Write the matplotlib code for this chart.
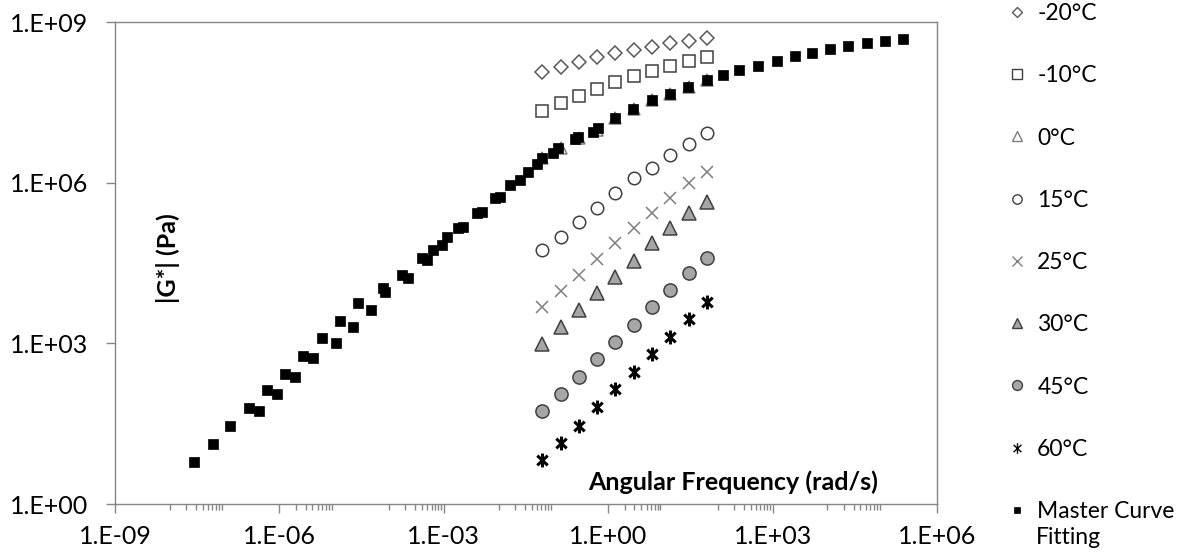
import matplotlib
matplotlib.use("Agg")
import matplotlib.pyplot as plt
from matplotlib.path import Path
from matplotlib.lines import Line2D
import matplotlib.ticker as mticker

plt.rcParams['font.family'] = ['Lato', 'DejaVu Sans']

# test frequencies (rad/s) used at every temperature
freq = [0.0628, 0.135, 0.292, 0.628, 1.35, 2.92, 6.28, 13.5, 29.2, 62.8]

# |G*| (Pa) per test temperature
g_m20 = [1.18e8, 1.47e8, 1.82e8, 2.19e8, 2.63e8, 3.0e8, 3.47e8, 3.98e8, 4.47e8, 5.0e8]
g_m10 = [2.21e7, 3.03e7, 4.15e7, 5.61e7, 7.67e7, 9.8e7, 1.23e8, 1.51e8, 1.89e8, 2.25e8]
g_0 = [2.85e6, 4.38e6, 6.73e6, 9.64e6, 1.59e7, 2.34e7, 3.50e7, 4.53e7, 6.19e7, 8.26e7]
g_15 = [5.53e4, 9.80e4, 1.87e5, 3.33e5, 6.50e5, 1.21e6, 1.85e6, 3.29e6, 5.27e6, 8.36e6]
g_25 = [4710, 9620, 1.89e4, 3.76e4, 7.38e4, 1.41e5, 2.68e5, 5.11e5, 9.73e5, 1.60e6]
g_30 = [973, 2050, 4200, 8830, 1.71e4, 3.49e4, 7.38e4, 1.41e5, 2.68e5, 4.42e5]
g_45 = [55.3, 114, 238, 504, 1070, 2200, 4710, 9910, 2.08e4, 3.97e4]
g_60 = [6.64, 14.0, 28.6, 64.0, 139, 296, 632, 1330, 2810, 6000]

# master curve (shifted data)
master_freq = [2.77e-8, 6.22e-8, 1.26e-7, 2.79e-7, 4.30e-7, 6.01e-7, 9.16e-7, 1.28e-6,
               1.93e-6, 2.73e-6, 4.06e-6, 5.98e-6, 1.08e-5, 1.28e-5, 2.23e-5, 2.75e-5,
               4.63e-5, 7.78e-5, 8.45e-5, 1.71e-4, 2.25e-4, 3.95e-4, 4.88e-4, 6.43e-4,
               9.16e-4, 1.13e-3, 1.84e-3, 2.27e-3, 3.98e-3, 4.92e-3, 8.59e-3, 1.06e-2,
               1.61e-2, 2.46e-2, 3.48e-2, 4.95e-2, 6.28e-2, 9.95e-2, 0.123, 0.248, 0.284,
               0.535, 0.659, 1.33, 2.87, 6.22, 13.4, 29.0, 62.7, 126, 247, 548, 1190,
               2560, 5180, 1.11e4, 2.40e4, 5.21e4, 1.12e5, 2.43e5]
master_g = [6.01, 13.0, 28.2, 61.2, 54.6, 135, 112, 272,
            238, 581, 526, 1240, 1000, 2610, 2050, 5600,
            4200, 1.08e4, 9230, 1.89e4, 1.64e4, 3.87e4, 3.60e4, 5.53e4,
            6.85e4, 9.79e4, 1.41e5, 1.51e5, 2.68e5, 2.87e5, 5.11e5, 5.47e5,
            9.06e5, 1.12e6, 1.60e6, 2.23e6, 2.85e6, 3.54e6, 4.38e6, 6.46e6, 7.21e6,
            8.95e6, 1.04e7, 1.59e7, 2.34e7, 3.50e7, 4.53e7, 6.19e7, 8.26e7, 1.02e8,
            1.27e8, 1.51e8, 1.89e8, 2.32e8, 2.67e8, 3.09e8, 3.56e8, 4.00e8, 4.48e8, 4.75e8]

labels = ['-20°C', '-10°C', '0°C', '15°C', '25°C', '30°C', '45°C', '60°C', 'Master Curve']
xticks = [1e-9, 1e-6, 1e-3, 1e0, 1e3, 1e6]
xtick_labels = ['1.E-09', '1.E-06', '1.E-03', '1.E+00', '1.E+03', '1.E+06']
yticks = [1e0, 1e3, 1e6, 1e9]
ytick_labels = ['1.E+00', '1.E+03', '1.E+06', '1.E+09']

# excel style star: an x with a vertical bar
star = Path([(0, -1), (0, 1), (-0.75, -0.7), (0.75, 0.7), (-0.75, 0.7), (0.75, -0.7)],
            [Path.MOVETO, Path.LINETO, Path.MOVETO, Path.LINETO, Path.MOVETO, Path.LINETO])

styles = [
    dict(marker='D', ms=7, mfc='white', mec='#595959', mew=1.1),
    dict(marker='s', ms=8.8, mfc='white', mec='#404040', mew=1.1),
    dict(marker='^', ms=9, mfc='white', mec='#7f7f7f', mew=1.1),
    dict(marker='o', ms=9, mfc='white', mec='#404040', mew=1.1),
    dict(marker='x', ms=9, mfc='none', mec='#7f7f7f', mew=1.1),
    dict(marker='^', ms=9.5, mfc='#a6a6a6', mec='#404040', mew=1.1),
    dict(marker='o', ms=9.5, mfc='#a6a6a6', mec='#404040', mew=1.1),
    dict(marker=star, ms=10, mfc='none', mec='black', mew=2.2),
    dict(marker='s', ms=6.5, mfc='black', mec='black', mew=0.5),
]

fig = plt.figure(figsize=(11.97, 5.59), dpi=100)
ax = fig.add_axes([115 / 1197, 55 / 559, 822 / 1197, 482 / 559])

series = [g_m20, g_m10, g_0, g_15, g_25, g_30, g_45, g_60]
for g, st in zip(series, styles[:8]):
    ax.plot(freq, g, ls='none', **st)
ax.plot(master_freq, master_g, ls='none', **styles[8])

ax.set_xscale('log')
ax.set_yscale('log')
ax.set_xlim(1e-9, 1e6)
ax.set_ylim(1e0, 1e9)

ax.set_xticks(xticks)
ax.set_xticklabels(xtick_labels)
ax.set_yticks(yticks)
ax.set_yticklabels(ytick_labels)
ax.xaxis.set_minor_locator(mticker.FixedLocator(
    [k * 10.0 ** (2 * m) for m in range(-4, 3) for k in range(1, 10)]))
ax.xaxis.set_minor_formatter(mticker.NullFormatter())
ax.yaxis.set_minor_locator(mticker.NullLocator())

for sp in ax.spines.values():
    sp.set_color('#868686')
    sp.set_linewidth(1)
ax.tick_params(which='major', direction='out', length=6.5, width=1, color='#868686',
               labelsize=18)
ax.tick_params(axis='x', which='major', pad=8.5)
ax.tick_params(axis='y', which='major', pad=13)
ax.tick_params(which='minor', direction='out', length=4.3, width=1, color='#868686')

ax.text(0.0645, 0.51, '|G*| (Pa)', transform=ax.transAxes, rotation=90,
        ha='center', va='center', fontsize=18, fontweight='bold')
ax.text(0.752, 0.046, 'Angular Frequency (rad/s)', transform=ax.transAxes,
        ha='center', va='center', fontsize=18, fontweight='bold')

# legend with smaller markers, as excel draws it
handles = []
for st in styles:
    s = dict(st)
    s['ms'] = s['ms'] * 0.75
    s['mew'] = min(s['mew'], 1.0)
    handles.append(Line2D([], [], ls='none', **s))
fig.legend(handles, labels, loc='upper left', bbox_to_anchor=(996 / 1197, 1.011),
           frameon=False, fontsize=16.5, labelspacing=1.80, handlelength=1.0,
           handletextpad=0.4, borderaxespad=0)
fig.text(1036 / 1197, 1 - 538 / 559, 'Fitting', fontsize=16.5, ha='left', va='center')

fig.savefig('out.png', dpi=100)
